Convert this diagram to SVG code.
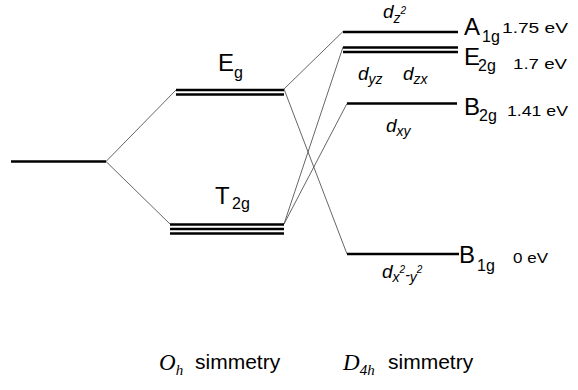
<svg xmlns="http://www.w3.org/2000/svg" width="578" height="390" viewBox="0 0 578 390">
<style>
.lvl{stroke:#000;stroke-width:2.6;fill:none}
.conn{stroke:#555;stroke-width:0.9;fill:none}
.lab{font-family:"Liberation Sans",Arial,sans-serif;font-size:24px;fill:#000}
.sub{font-size:16px}
.ev{font-family:"Liberation Sans",Arial,sans-serif;font-size:15.5px;fill:#000}
.d{font-family:"Liberation Sans",Arial,sans-serif;font-style:italic;font-size:19px;fill:#000}
.ds{font-size:14px}
.sup{font-size:10px}
.sym{font-family:"Liberation Sans",Arial,sans-serif;font-size:21px;fill:#000}
.tm{font-family:"Liberation Serif","Times New Roman",serif;font-style:italic;fill:#000}
</style>
<rect width="578" height="390" fill="#fff"/>
<g id="connectors">
<line class="conn" x1="106" y1="161.5" x2="176" y2="90"/>
<line class="conn" x1="106" y1="161.5" x2="170" y2="224"/>
<line class="conn" x1="284" y1="89" x2="343" y2="31.5"/>
<line class="conn" x1="284" y1="89" x2="347" y2="254"/>
<line class="conn" x1="284" y1="224" x2="343" y2="47"/>
<line class="conn" x1="284" y1="224" x2="347" y2="103.5"/>
</g>
<g id="free-ion">
<line class="lvl" x1="11" y1="161.5" x2="106" y2="161.5"/>
</g>
<g id="Eg">
<line class="lvl" x1="176" y1="90" x2="284" y2="90"/>
<line class="lvl" x1="176" y1="94.5" x2="284" y2="94.5"/>
<text class="lab" x="218" y="71">E<tspan class="sub" dy="7">g</tspan></text>
</g>
<g id="T2g">
<line class="lvl" x1="170" y1="224.5" x2="284" y2="224.5"/>
<line class="lvl" x1="170" y1="229" x2="284" y2="229"/>
<line class="lvl" x1="170" y1="233.5" x2="284" y2="233.5"/>
<text class="lab" x="215" y="204">T<tspan class="sub" dy="5" x="232">2g</tspan></text>
</g>
<g id="A1g">
<line class="lvl" x1="343" y1="32" x2="458" y2="32"/>
<text class="lab" x="464" y="35">A<tspan class="sub" dy="7" x="482">1g</tspan></text>
<text class="ev" x="502" y="33" textLength="66" lengthAdjust="spacingAndGlyphs">1.75 eV</text>
<text class="d" x="383" y="18">d<tspan class="ds" dy="5">z</tspan><tspan class="sup" dy="-9">2</tspan></text>
</g>
<g id="E2g">
<line class="lvl" x1="343" y1="47.5" x2="458" y2="47.5"/>
<line class="lvl" x1="343" y1="52" x2="458" y2="52"/>
<text class="lab" x="464" y="65">E<tspan class="sub" dy="6" x="478">2g</tspan></text>
<text class="ev" x="513" y="69" textLength="54" lengthAdjust="spacingAndGlyphs">1.7 eV</text>
<text class="d" x="358" y="80">d<tspan class="ds" dy="4">yz</tspan></text>
<text class="d" x="403" y="80">d<tspan class="ds" dy="4">zx</tspan></text>
</g>
<g id="B2g">
<line class="lvl" x1="347" y1="103.5" x2="457" y2="103.5"/>
<text class="lab" x="464" y="115">B<tspan class="sub" dy="6" x="479">2g</tspan></text>
<text class="ev" x="507" y="116" textLength="61" lengthAdjust="spacingAndGlyphs">1.41 eV</text>
<text class="d" x="386" y="131.5">d<tspan class="ds" dy="4">xy</tspan></text>
</g>
<g id="B1g">
<line class="lvl" x1="347" y1="254" x2="459" y2="254"/>
<text class="lab" x="459" y="263">B<tspan class="sub" dy="8" x="477">1g</tspan></text>
<text class="ev" x="513" y="263" textLength="35" lengthAdjust="spacingAndGlyphs">0 eV</text>
<text class="d" x="382" y="278">d<tspan class="ds" dy="4">x</tspan><tspan class="sup" dy="-9">2</tspan><tspan class="ds" dy="7">-</tspan><tspan class="ds" dy="2">y</tspan><tspan class="sup" dy="-9">2</tspan></text>
</g>
<g id="labels">
<text class="tm" x="159" y="370" font-size="23">O<tspan font-size="15" dy="5">h</tspan></text>
<text class="sym" x="195" y="369">simmetry</text>
<text class="tm" x="343" y="370" font-size="23">D<tspan font-size="15" dy="5">4h</tspan></text>
<text class="sym" x="388" y="369">simmetry</text>
</g>
</svg>
